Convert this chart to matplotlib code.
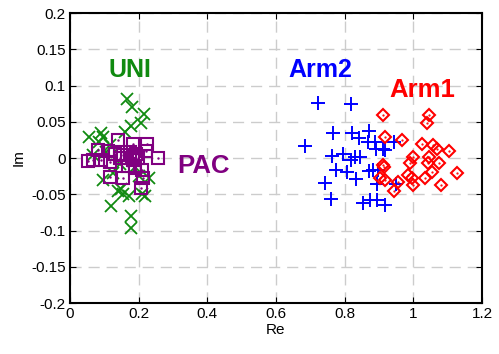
import matplotlib
matplotlib.use("Agg")
import matplotlib.pyplot as plt
import numpy as np

plt.rcParams['font.family'] = ['Liberation Sans', 'DejaVu Sans']

# UNI (green x)
uni_re = [0.167, 0.180, 0.216, 0.206, 0.177, 0.056, 0.092, 0.097, 0.085, 0.160,
          0.068, 0.117, 0.097, 0.148, 0.155, 0.173, 0.209, 0.218, 0.231, 0.121,
          0.178, 0.178, 0.140, 0.145, 0.190, 0.126, 0.200, 0.105]
uni_im = [0.081, 0.071, 0.061, 0.049, 0.044, 0.029, 0.035, 0.029, 0.022, 0.036,
          0.004, 0.018, -0.030, -0.042, -0.049, -0.053, -0.049, -0.052, -0.027, -0.066,
          -0.080, -0.096, -0.046, -0.008, -0.012, -0.020, -0.025, 0.008]

# PAC (purple squares)
pac_re = [0.141, 0.183, 0.226, 0.221, 0.082, 0.112, 0.131, 0.155, 0.175, 0.194,
          0.053, 0.068, 0.092, 0.117, 0.257, 0.146, 0.165, 0.184, 0.199, 0.170,
          0.189, 0.209, 0.118, 0.155, 0.212, 0.206]
pac_im = [0.025, 0.019, 0.020, 0.010, 0.011, 0.010, 0.006, 0.004, 0.009, 0.006,
          -0.004, -0.003, -0.003, -0.005, -0.0005, 0.000, 0.000, -0.003, 0.000, -0.011,
          -0.014, -0.016, -0.026, -0.028, -0.027, -0.041]

# Arm2 (blue +)
arm2_re = [0.721, 0.819, 0.767, 0.820, 0.843, 0.871, 0.867, 0.888, 0.891, 0.918,
           0.685, 0.945, 0.762, 0.796, 0.819, 0.830, 0.845, 0.775, 0.806, 0.833,
           0.872, 0.896, 0.895, 0.743, 0.760, 0.854, 0.874, 0.893, 0.918, 0.950,
           0.913, 0.884]
arm2_im = [0.076, 0.075, 0.035, 0.035, 0.028, 0.037, 0.022, 0.022, 0.013, 0.011,
           0.017, 0.022, 0.003, 0.005, -0.003, 0.002, 0.002, -0.016, -0.019, -0.029,
           -0.018, -0.017, -0.036, -0.034, -0.056, -0.062, -0.058, -0.058, -0.065, -0.036,
           0.013, -0.017]

# Arm1 (red diamonds)
arm1_re = [0.913, 1.047, 1.039, 0.918, 0.966, 1.024, 1.057, 1.068, 1.105, 1.000,
           1.047, 0.990, 1.044, 1.076, 0.913, 0.985, 0.995, 1.034, 1.054, 1.126,
           0.903, 0.918, 1.000, 1.080, 0.956, 0.944, 0.915]
arm1_im = [0.060, 0.059, 0.049, 0.029, 0.025, 0.020, 0.018, 0.013, 0.010, 0.002,
           0.002, -0.007, -0.007, -0.007, -0.010, -0.023, -0.027, -0.027, -0.019, -0.020,
           -0.027, -0.030, -0.037, -0.037, -0.033, -0.046, -0.012]

green = '#108a10'
purple = '#800080'
blue = '#0000ff'
red = '#ff0000'

fig = plt.figure(figsize=(4.99, 3.54), dpi=100)
ax = fig.add_axes([0.140, 0.144, 0.826, 0.819])

ax.plot(uni_re, uni_im, 'x', color=green, markersize=9, markeredgewidth=1.3, linestyle='none')
ax.plot(pac_re, pac_im, 's', color=purple, markersize=9, markerfacecolor='none',
        markeredgewidth=1.5, linestyle='none')
ax.plot(pac_re, pac_im, '.', color=purple, markersize=1.5, linestyle='none')
ax.plot(arm2_re, arm2_im, '+', color=blue, markersize=10, markeredgewidth=1.4, linestyle='none')
ax.plot(arm1_re, arm1_im, 'D', color=red, markersize=6, markerfacecolor='none',
        markeredgewidth=1.5, linestyle='none')
ax.plot(arm1_re, arm1_im, '.', color=red, markersize=1.2, linestyle='none')

ax.text(0.175, 0.121, 'UNI', color=green, fontsize=18, fontweight='bold', ha='center', va='center')
ax.text(0.39, -0.011, 'PAC', color=purple, fontsize=18.5, fontweight='bold', ha='center', va='center')
ax.text(0.73, 0.121, 'Arm2', color=blue, fontsize=18, fontweight='bold', ha='center', va='center')
ax.text(1.025, 0.094, 'Arm1', color=red, fontsize=18.5, fontweight='bold', ha='center', va='center')

ax.set_xlim(0, 1.2)
ax.set_ylim(-0.2, 0.2)
ax.set_xticks(np.arange(0, 1.21, 0.2))
ax.set_xticklabels(['0', '0.2', '0.4', '0.6', '0.8', '1', '1.2'])
ax.set_yticks(np.arange(-0.2, 0.201, 0.05))
ax.set_yticklabels(['-0.2', '-0.15', '-0.1', '-0.05', '0', '0.05', '0.1', '0.15', '0.2'])
ax.tick_params(direction='in', top=True, right=True, labelsize=11, length=4, pad=3)
ax.grid(True, linestyle=(0, (8, 5)), color='#cccccc', linewidth=1.0)
ax.set_axisbelow(True)
for s in ax.spines.values():
    s.set_linewidth(1.5)

ax.set_xlabel('Re', fontsize=11, labelpad=1)
ax.set_ylabel('Im', fontsize=11, labelpad=4)

fig.savefig('out.png', dpi=100)
